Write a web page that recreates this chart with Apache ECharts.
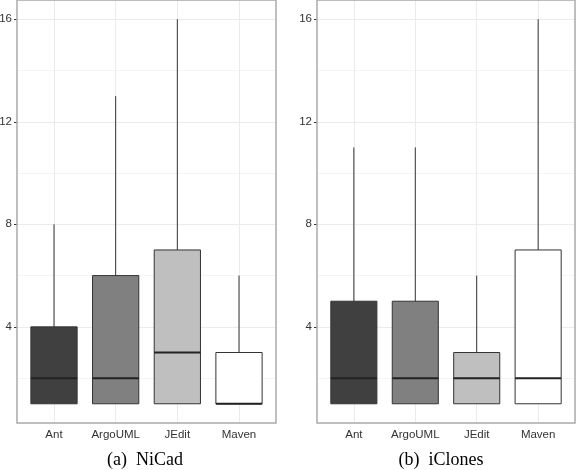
<!DOCTYPE html>
<html>
<head>
<meta charset="utf-8">
<script src="https://cdn.jsdelivr.net/npm/echarts@6/dist/echarts.min.js"></script>
<style>html,body{margin:0;padding:0;background:#fff;}#main{width:576px;height:470px;}</style>
</head>
<body>
<div id="main"></div>
<script>
// Data
var categories = ['Ant', 'ArgoUML', 'JEdit', 'Maven'];
// each row: [min, Q1, median, Q3, max]
var nicad = [
  [1, 1, 2, 4, 8],
  [1, 1, 2, 6, 13],
  [1, 1, 3, 7, 16],
  [1, 1, 1, 3, 6]
];
var iclones = [
  [1, 1, 2, 5, 11],
  [1, 1, 2, 5, 11],
  [1, 1, 2, 3, 6],
  [1, 1, 2, 7, 16]
];
var yTicks = [4, 8, 12, 16];
var subtitles = ['(a)  NiCad', '(b)  iClones'];
var fills = ['#404040', '#808080', '#bfbfbf', '#ffffff'];

var chart = echarts.init(document.getElementById('main'), null, {renderer: 'canvas'});

function toData(rows) {
  return rows.map(function (r, i) { return [i + 1].concat(r).concat([i]); });
}

function renderBox(params, api) {
  var x = api.value(0);
  var lo = api.value(1), q1 = api.value(2), med = api.value(3), q3 = api.value(4), hi = api.value(5);
  var idx = api.value(6);
  var w = api.size([0.75, 0])[0];
  var pq1 = api.coord([x, q1]), pq3 = api.coord([x, q3]);
  var plo = api.coord([x, lo]), phi = api.coord([x, hi]), pmed = api.coord([x, med]);
  var left = pq1[0] - w / 2;
  return {
    type: 'group',
    children: [
      {type: 'line', shape: {x1: phi[0], y1: phi[1], x2: pq3[0], y2: pq3[1]}, style: {stroke: '#333', lineWidth: 1}},
      {type: 'line', shape: {x1: plo[0], y1: plo[1], x2: pq1[0], y2: pq1[1]}, style: {stroke: '#333', lineWidth: 1}},
      {type: 'rect', shape: {x: left, y: pq3[1], width: w, height: pq1[1] - pq3[1]}, style: {fill: fills[idx], stroke: '#333', lineWidth: 1}},
      {type: 'line', shape: {x1: left, y1: pmed[1], x2: left + w, y2: pmed[1]}, style: {stroke: '#222', lineWidth: 2}}
    ]
  };
}

function xAxisCfg(gi) {
  return {
    type: 'value', gridIndex: gi, min: 0.4, max: 4.6, minInterval: 1, maxInterval: 1,
    axisLine: {show: false},
    axisTick: {show: true, length: 3, customValues: [1, 2, 3, 4], lineStyle: {color: '#333'}},
    axisLabel: {customValues: [1, 2, 3, 4], margin: 6, color: '#333', fontSize: 11.5, fontFamily: 'Liberation Sans',
      formatter: function (v) { return categories[Math.round(v) - 1] || ''; }},
    splitLine: {show: true, lineStyle: {color: '#ebebeb', width: 1}}
  };
}
function yAxisCfg(gi) {
  return {
    type: 'value', gridIndex: gi, min: 0.25, max: 16.75, minInterval: 4, maxInterval: 4,
    axisLine: {show: false},
    axisTick: {show: true, length: 3, customValues: yTicks, lineStyle: {color: '#333'}},
    axisLabel: {customValues: yTicks, margin: 5, color: '#333', fontSize: 11.5, fontFamily: 'Liberation Sans',
      formatter: function (v) { return yTicks.indexOf(v) >= 0 ? String(v) : ''; }},
    splitLine: {show: true, lineStyle: {color: '#ebebeb', width: 1}},
    z: 1
  };
}
function yMinorCfg(gi) {
  // shifted helper axis: its lines at 0,4,8,12 fall on values 2,6,10,14
  return {
    type: 'value', gridIndex: gi, min: -1.75, max: 14.75, minInterval: 4, maxInterval: 4,
    position: 'left',
    axisLine: {show: false}, axisTick: {show: false}, axisLabel: {show: false},
    splitLine: {show: true, lineStyle: {color: '#f4f4f4', width: 1}},
    z: 0
  };
}

var option = {
  backgroundColor: '#ffffff',
  animation: false,
  grid: [
    {left: 17, top: 0, width: 259, height: 423, outerBoundsMode: 'none', containLabel: false, show: true, borderColor: '#aaaaaa', borderWidth: 1.5, backgroundColor: 'transparent', z: 3},
    {left: 317, top: 0, width: 258, height: 423, outerBoundsMode: 'none', containLabel: false, show: true, borderColor: '#aaaaaa', borderWidth: 1.5, backgroundColor: 'transparent', z: 3}
  ],
  xAxis: [xAxisCfg(0), xAxisCfg(1)],
  yAxis: [yAxisCfg(0), yAxisCfg(1), yMinorCfg(0), yMinorCfg(1)],
  series: [
    {type: 'custom', name: 'NiCad', xAxisIndex: 0, yAxisIndex: 0, renderItem: renderBox, data: toData(nicad), z: 5,
      encode: {x: 0, y: [1, 2, 3, 4, 5]}},
    {type: 'custom', name: 'iClones', xAxisIndex: 1, yAxisIndex: 1, renderItem: renderBox, data: toData(iclones), z: 5,
      encode: {x: 0, y: [1, 2, 3, 4, 5]}}
  ],
  graphic: [
    {type: 'text', x: 145, y: 460, style: {text: subtitles[0], fill: '#000', font: '18px "Liberation Serif"', textAlign: 'center', textVerticalAlign: 'middle'}},
    {type: 'text', x: 441, y: 460, style: {text: subtitles[1], fill: '#000', font: '18px "Liberation Serif"', textAlign: 'center', textVerticalAlign: 'middle'}}
  ]
};
chart.setOption(option);
</script>
</body>
</html>
